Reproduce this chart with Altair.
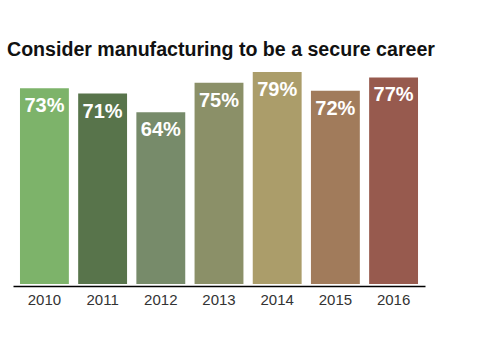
import altair as alt
import pandas as pd

years = ["2010", "2011", "2012", "2013", "2014", "2015", "2016"]
values = [73, 71, 64, 75, 79, 72, 77]
labels = ["73%", "71%", "64%", "75%", "79%", "72%", "77%"]
colors = ["#7db36a", "#58744b", "#778b6a", "#8b9068", "#ab9d6a", "#a17b5b", "#975a4e"]

df = pd.DataFrame({"year": years, "value": values, "label": labels})

x = alt.X("year:N", sort=years,
          scale=alt.Scale(paddingInner=0.16, paddingOuter=0.12),
          axis=alt.Axis(title=None, labelAngle=0, ticks=False, labelFontSize=15,
                        labelColor="#333333", labelFont="Liberation Sans",
                        labelPadding=6, domainColor="#000000", domainWidth=1.3,
                        offset=2))
y = alt.Y("value:Q", scale=alt.Scale(domain=[0, 82], nice=False, zero=True), axis=None)

bars = alt.Chart(df).mark_bar().encode(
    x=x, y=y,
    color=alt.Color("year:N", scale=alt.Scale(domain=years, range=colors), legend=None),
)

text = alt.Chart(df).mark_text(
    baseline="top", dy=8, color="white", fontSize=20, fontWeight="bold",
    font="Liberation Sans"
).encode(x=alt.X("year:N", sort=years), y=y, text="label:N")

chart = (bars + text).properties(
    width=412, height=220,
    title=alt.TitleParams("Consider manufacturing to be a secure career",
                          anchor="start", dx=-6, offset=3, fontSize=19.6,
                          font="Liberation Sans", fontWeight="bold", color="#111111"),
    autosize=alt.AutoSizeParams(type="none"),
    padding={"left": 13, "top": 64, "right": 60, "bottom": 66},
).configure(background="white").configure_view(stroke=None, strokeWidth=0)

chart.save("out.html", embed_options={"renderer": "svg", "actions": False})
